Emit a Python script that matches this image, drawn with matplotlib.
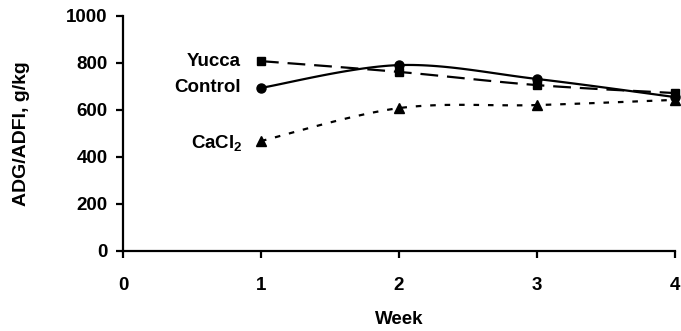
import numpy as np
import matplotlib

matplotlib.use('Agg')
import matplotlib.pyplot as plt

plt.rcParams['font.family'] = 'Liberation Sans'
plt.rcParams['font.weight'] = 'bold'
plt.rcParams['mathtext.fontset'] = 'custom'
plt.rcParams['mathtext.rm'] = 'Liberation Sans:bold'
plt.rcParams['mathtext.bf'] = 'Liberation Sans:bold'

weeks = [1, 2, 3, 4]
control = [694, 791, 732, 655]
yucca = [808, 762, 706, 672]
cacl2 = [468, 608, 621, 643]

FS = 13.5


def smooth(x, y, n=30):
    # catmull-rom style curve through the points, like a smoothed line in a spreadsheet
    x = np.asarray(x, float)
    y = np.asarray(y, float)
    px = np.concatenate([[x[0]], x, [x[-1]]])
    py = np.concatenate([[y[0]], y, [y[-1]]])
    xs, ys = [], []
    t = np.linspace(0, 1, n)
    for i in range(1, len(px) - 2):
        p0, p1, p2, p3 = [np.array([px[j], py[j]]) for j in range(i - 1, i + 3)]
        c1 = p1 + (p2 - p0) / 6
        c2 = p2 - (p3 - p1) / 6
        b = ((1 - t) ** 3)[:, None] * p1 + (3 * (1 - t) ** 2 * t)[:, None] * c1 \
            + (3 * (1 - t) * t ** 2)[:, None] * c2 + (t ** 3)[:, None] * p2
        xs.extend(b[:, 0])
        ys.extend(b[:, 1])
    return xs, ys


fig = plt.figure(figsize=(6.81, 3.31), dpi=100)
ax = fig.add_axes([0.1806, 0.2417, 0.8104, 0.71])

sx, sy = smooth(weeks, yucca)
ax.plot(sx, sy, color='black', lw=1.6, dashes=(8, 4))
ax.plot(weeks, yucca, 's', color='black', ms=6, clip_on=False)

sx, sy = smooth(weeks, control)
ax.plot(sx, sy, color='black', lw=1.6)
ax.plot(weeks, control, 'o', color='black', ms=6.5, clip_on=False)

sx, sy = smooth(weeks, cacl2)
ax.plot(sx, sy, color='black', lw=1.6, dashes=(2.5, 4))
ax.plot(weeks, cacl2, '^', color='black', ms=6.5, clip_on=False)

ax.text(0.855, yucca[0], 'Yucca', ha='right', va='center', fontsize=FS, fontweight='bold')
ax.text(0.855, control[0], 'Control', ha='right', va='center', fontsize=FS, fontweight='bold')
ax.text(0.87, cacl2[0] - 10, r'CaCl$_2$', ha='right', va='center', fontsize=FS, fontweight='bold')

ax.set_xlim(0, 4)
ax.set_ylim(0, 1000)
ax.set_xticks([0, 1, 2, 3, 4])
ax.set_yticks([0, 200, 400, 600, 800, 1000])
ax.spines['top'].set_visible(False)
ax.spines['right'].set_visible(False)
for s in ['left', 'bottom']:
    ax.spines[s].set_linewidth(1.6)
ax.tick_params(width=1.6, length=5, labelsize=FS, pad=6)
ax.tick_params(axis='x', pad=14)
for lab in ax.get_xticklabels() + ax.get_yticklabels():
    lab.set_fontweight('bold')

ax.set_xlabel('Week', fontsize=FS, fontweight='bold', labelpad=12)
ax.set_ylabel('ADG/ADFI, g/kg', fontsize=14, fontweight='bold', labelpad=26)

fig.savefig('out.png', dpi=100)
